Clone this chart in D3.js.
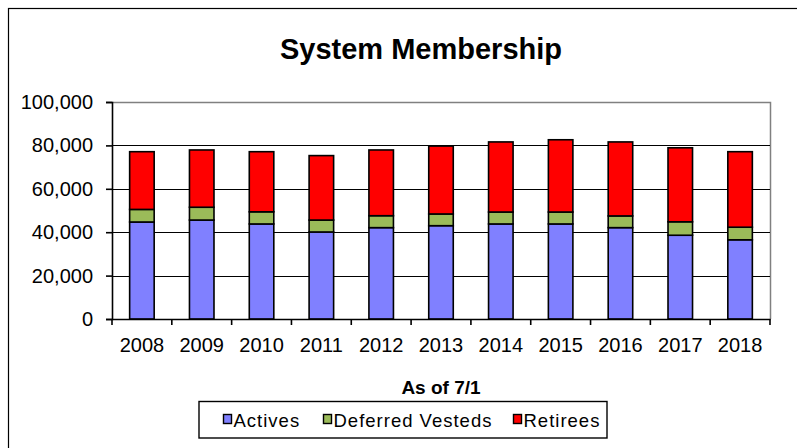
<!DOCTYPE html>
<html>
<head>
<meta charset="utf-8">
<script src="https://cdn.jsdelivr.net/npm/d3@7"></script>
<style>
  body { margin: 0; background: #fff; }
  svg { display: block; font-family: 'Liberation Sans', Arial, sans-serif; }
</style>
</head>
<body>
<script>
  const width = 797
  const height = 448

  const years = ['2008', '2009', '2010', '2011', '2012', '2013', '2014', '2015', '2016', '2017', '2018']
  const actives = [44700, 45600, 43800, 40100, 42100, 43000, 43800, 43800, 42100, 38600, 36500]
  const deferredVesteds = [5800, 5900, 5600, 5500, 5500, 5400, 5500, 5500, 5400, 6200, 5800]
  const retirees = [26600, 26400, 27700, 29700, 30300, 31300, 32300, 33300, 34100, 34100, 34800]
  const seriesNames = ['Actives', 'Deferred Vesteds', 'Retirees']
  const seriesColors = ['#8080ff', '#9bbb59', '#ff0000']
  const yTicks = [0, 20000, 40000, 60000, 80000, 100000]

  const plot = { left: 112, right: 770, top: 102, bottom: 319 }

  const svg = d3.select('body')
    .append('svg')
    .attr('width', width)
    .attr('height', height)

  // outer chart frame (runs off the right and bottom edges)
  svg.append('rect')
    .attr('x', 8.5)
    .attr('y', 8.5)
    .attr('width', 820)
    .attr('height', 470)
    .attr('fill', 'none')
    .attr('stroke', '#000')
    .attr('stroke-width', 1.2)

  svg.append('text')
    .attr('x', 421)
    .attr('y', 59)
    .attr('text-anchor', 'middle')
    .attr('font-size', '29px')
    .attr('font-weight', 'bold')
    .text('System Membership')

  const x = d3.scaleBand()
    .domain(years)
    .range([plot.left, plot.right])
    .paddingInner(0.59)
    .paddingOuter(0.295)

  const y = d3.scaleLinear()
    .domain([0, 100000])
    .range([plot.bottom, plot.top])

  // plot border: gray top and right
  svg.append('path')
    .attr('d', `M${plot.left},${plot.top + 0.5}H${plot.right + 0.5}V${plot.bottom}`)
    .attr('fill', 'none')
    .attr('stroke', '#808080')
    .attr('stroke-width', 1.5)

  // gridlines
  svg.append('g')
    .selectAll('line')
    .data(yTicks.filter(d => d > 0 && d < 100000))
    .enter()
    .append('line')
    .attr('x1', plot.left)
    .attr('x2', plot.right)
    .attr('y1', d => Math.round(y(d)) + 0.5)
    .attr('y2', d => Math.round(y(d)) + 0.5)
    .attr('stroke', '#000')
    .attr('stroke-width', 1.2)

  // stacked bars
  const rows = years.map(function (yr, i) {
    return { year: yr, Actives: actives[i], 'Deferred Vesteds': deferredVesteds[i], Retirees: retirees[i] }
  })
  const stacked = d3.stack().keys(seriesNames)(rows)

  svg.append('g')
    .selectAll('g')
    .data(stacked)
    .enter()
    .append('g')
    .attr('fill', (d, i) => seriesColors[i])
    .selectAll('rect')
    .data(d => d)
    .enter()
    .append('rect')
    .attr('x', d => x(d.data.year))
    .attr('y', d => y(d[1]))
    .attr('width', x.bandwidth())
    .attr('height', d => y(d[0]) - y(d[1]))
    .attr('stroke', '#000')
    .attr('stroke-width', 1.6)

  // y axis
  const yAxis = svg.append('g')
    .attr('transform', `translate(${plot.left},0)`)
    .call(d3.axisLeft(y).tickValues(yTicks).tickSize(6).tickPadding(13).tickFormat(d3.format(',')))
  yAxis.select('.domain').attr('stroke', '#000').attr('stroke-width', 1.6)
  yAxis.selectAll('.tick line').attr('stroke', '#000').attr('stroke-width', 1.6)
  yAxis.selectAll('text')
    .attr('font-size', '20px')
    .attr('font-family', "'Liberation Sans', Arial, sans-serif")
    .attr('fill', '#000')

  // x axis with ticks between categories
  const xAxis = svg.append('g')
    .attr('transform', `translate(0,${plot.bottom})`)
    .call(d3.axisBottom(x).tickSize(0).tickPadding(19))
  xAxis.select('.domain').attr('stroke', '#000').attr('stroke-width', 1.6)
  xAxis.selectAll('text')
    .attr('font-size', '20px')
    .attr('font-family', "'Liberation Sans', Arial, sans-serif")
    .attr('fill', '#000')

  const step = x.step()
  svg.append('g')
    .selectAll('line')
    .data(d3.range(years.length + 1))
    .enter()
    .append('line')
    .attr('x1', i => plot.left + i * step)
    .attr('x2', i => plot.left + i * step)
    .attr('y1', plot.bottom)
    .attr('y2', plot.bottom + 6)
    .attr('stroke', '#000')
    .attr('stroke-width', 1.6)

  svg.append('text')
    .attr('x', 441)
    .attr('y', 394)
    .attr('text-anchor', 'middle')
    .attr('font-size', '19px')
    .attr('font-weight', 'bold')
    .text('As of 7/1')

  // legend
  const legend = svg.append('g')
  legend.append('rect')
    .attr('x', 199)
    .attr('y', 401.5)
    .attr('width', 408)
    .attr('height', 36.5)
    .attr('fill', '#fff')
    .attr('stroke', '#000')
    .attr('stroke-width', 1.4)

  const legendX = [223, 323, 513]
  const items = legend.selectAll('g.item')
    .data(seriesNames)
    .enter()
    .append('g')
    .attr('class', 'item')
    .attr('transform', (d, i) => `translate(${legendX[i]},420)`)
  items.append('rect')
    .attr('x', 0.5)
    .attr('y', -5.5)
    .attr('width', 8)
    .attr('height', 9)
    .attr('fill', (d, i) => seriesColors[i])
    .attr('stroke', '#000')
    .attr('stroke-width', 1.4)
  items.append('text')
    .attr('x', 10.5)
    .attr('y', 7)
    .attr('font-size', '18.5px')
    .attr('letter-spacing', '1px')
    .text(d => d)
</script>
</body>
</html>
